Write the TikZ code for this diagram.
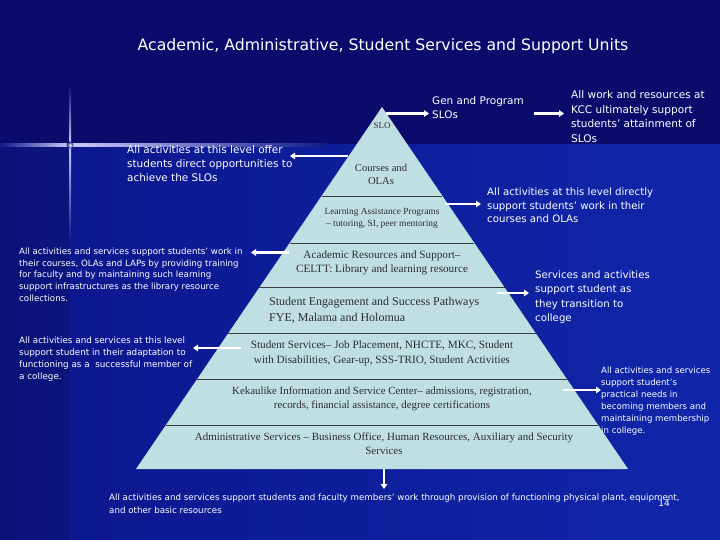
\documentclass[tikz,border=0pt]{standalone}
\usepackage{fontspec}
\setmainfont{Liberation Serif}
\newfontfamily\tah{DejaVu Sans}
\usetikzlibrary{arrows.meta,calc}
\definecolor{navy}{RGB}{11,11,108}
\definecolor{lowl}{RGB}{12,22,140}
\definecolor{lowr}{RGB}{16,38,170}
\definecolor{glowbg}{RGB}{14,24,135}
\definecolor{pyr}{RGB}{192,223,227}
\definecolor{ink}{RGB}{45,45,45}
\definecolor{rulec}{RGB}{60,60,60}
\tikzset{
  arr/.style={white, line width=2.2pt, -{Triangle[length=5pt,width=6.5pt]}},
  lab/.style={text=white, inner sep=0pt, anchor=north west, align=left},
  pt/.style={text=ink, inner sep=0pt, align=center}
}
\begin{document}
\begin{tikzpicture}[x=1pt,y=-1pt]
\useasboundingbox (0,0) rectangle (720,540);
% background
\fill[navy] (0,0) rectangle (720,145);
\shade[left color=lowl, right color=lowr] (0,145) rectangle (720,540);
\fill[black, opacity=0.12] (0,146) rectangle (70,540);
% star glow
\shade[left color=glowbg, right color=white!80!blue] (0,143.8) rectangle (70,146.2);
\shade[left color=white!80!blue, right color=glowbg] (70,143.8) rectangle (330,146.2);
\shade[top color=navy, bottom color=white!80!blue] (69,85) rectangle (71,145);
\shade[top color=white!80!blue, bottom color=lowl] (69,145) rectangle (71,240);
\shade[inner color=white, outer color=glowbg] (70,145) circle (3.5);
% title
\node[text=white, inner sep=0pt, font=\tah\fontsize{15.7}{19}\selectfont] (title) at (383,46)
  {Academic, Administrative, Student Services and Support Units};
% pyramid
\coordinate (A) at (382,107);
\coordinate (BL) at (136,469);
\coordinate (BR) at (628,469);
\fill[pyr] (A) -- (BR) -- (BL) -- cycle;
\foreach \f/\w in {0.2459/0.8pt,0.3757/0.8pt,0.4986/1.4pt,0.6243/0.8pt,0.7528/0.6pt,0.8785/0.6pt}
  \draw[rulec, line width=\w] ($(A)!\f!(BL)$) -- ($(A)!\f!(BR)$);
% pyramid texts
\node[pt, font=\fontsize{9}{10}\selectfont] (slo) at (382,126) {SLO};
\node[pt, font=\fontsize{10.6}{13}\selectfont] (courses) at (381,174.5) {Courses and\\OLAs};
\node[pt, font=\fontsize{9.4}{12}\selectfont] (lap) at (382,218) {Learning Assistance Programs\\– tutoring, SI, peer mentoring};
\node[pt, font=\fontsize{11.2}{14}\selectfont] (ars) at (382,263) {Academic Resources and Support–\\CELTT: Library and learning resource};
\node[pt, align=left, anchor=west, font=\fontsize{12}{16}\selectfont] (sep) at (269,310) {Student Engagement and Success Pathways\\FYE, Malama and Holomua};
\node[pt, font=\fontsize{11.2}{15}\selectfont] (ss) at (382,353.5) {Student Services– Job Placement, NHCTE, MKC, Student\\with Disabilities, Gear-up, SSS-TRIO, Student Activities};
\node[pt, font=\fontsize{10.9}{14}\selectfont] (kek) at (382,399) {Kekaulike Information and Service Center– admissions, registration,\\records, financial assistance, degree certifications};
\node[pt, font=\fontsize{11}{14}\selectfont] (adm) at (384,444) {Administrative Services – Business Office, Human Resources, Auxiliary and Security\\Services};
% side labels
\node[lab, font=\tah\fontsize{10.45}{14}\selectfont] (gen) at (432,96.5) {Gen and Program\\SLOs};
\node[lab, font=\tah\fontsize{10.55}{14.5}\selectfont] (kcc) at (571,90.5) {All work and resources at\\KCC ultimately support\\students’ attainment of\\SLOs};
\node[lab, font=\tah\fontsize{10.45}{14}\selectfont] (offer) at (127,145.6) {All activities at this level offer\\students direct opportunities to\\achieve the SLOs};
\node[lab, font=\tah\fontsize{10.2}{13.5}\selectfont] (direct) at (487,187.6) {All activities at this level directly\\support students’ work in their\\courses and OLAs};
\node[lab, font=\tah\fontsize{8.66}{11.8}\selectfont] (lapnote) at (19,247.5) {All activities and services support students’ work in\\their courses, OLAs and LAPs by providing training\\for faculty and by maintaining such learning\\support infrastructures as the library resource\\collections.};
\node[lab, font=\tah\fontsize{8.8}{12}\selectfont] (adapt) at (19,336.3) {All activities and services at this level\\support student in their adaptation to\\functioning as a\ \ successful member of\\a college.};
\node[lab, font=\tah\fontsize{10.2}{14.3}\selectfont] (trans) at (535,270.6) {Services and activities\\support student as\\they transition to\\college};
\node[lab, font=\tah\fontsize{8.6}{12}\selectfont] (pract) at (601,366.5) {All activities and services\\support student’s\\practical needs in\\becoming members and\\maintaining membership\\in college.};
\node[lab, font=\tah\fontsize{8.7}{13}\selectfont] (basic) at (109,493.4) {All activities and services support students and faculty members’ work through provision of functioning physical plant, equipment,\\and other basic resources};
\node[text=white, inner sep=0pt, font=\tah\fontsize{9}{10}\selectfont] (pg) at (664,503) {14};
% arrows
\coordinate (a1s) at (386,113.5); \coordinate (a1e) at (429,113.5);
\coordinate (a2s) at (534,113.5); \coordinate (a2e) at (564,113.5);
\coordinate (a3s) at (348,156);   \coordinate (a3e) at (290,156);
\coordinate (a4s) at (445,204);   \coordinate (a4e) at (481,204);
\coordinate (a5s) at (289,252.5); \coordinate (a5e) at (251,252.5);
\coordinate (a6s) at (497,293);   \coordinate (a6e) at (529,293);
\coordinate (a7s) at (241,348);   \coordinate (a7e) at (193,348);
\coordinate (a8s) at (563,390);   \coordinate (a8e) at (601,390);
\coordinate (a9s) at (384,469);   \coordinate (a9e) at (384,489);
\foreach \i in {1,...,9} \draw[arr] (a\i s) -- (a\i e);
\end{tikzpicture}
\end{document}
